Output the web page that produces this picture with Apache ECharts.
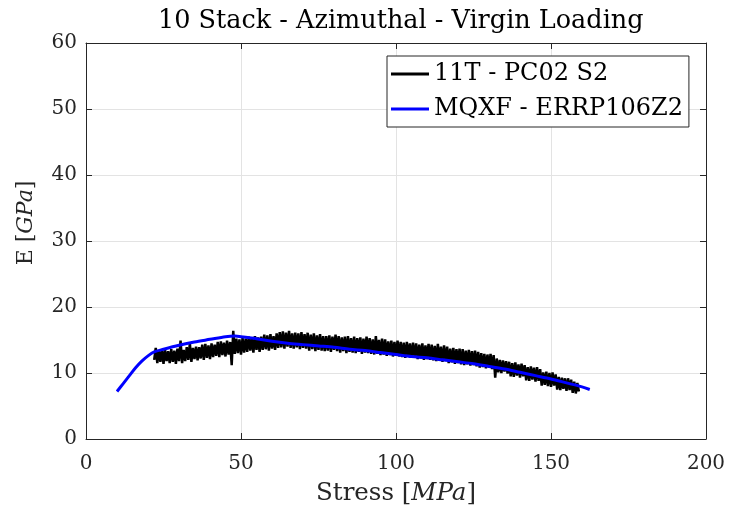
<!DOCTYPE html>
<html>
<head>
<meta charset="utf-8">
<script src="https://cdn.jsdelivr.net/npm/echarts@6/dist/echarts.min.js"></script>
<style>html,body{margin:0;padding:0;background:#fff;}#chart{width:729px;height:514px;}</style>
</head>
<body>
<div id="chart"></div>
<script>
// ---- data ----
const seriesNames = ['11T - PC02 S2', 'MQXF - ERRP106Z2'];
const xTicks = [0, 50, 100, 150, 200];
const yTicks = [0, 10, 20, 30, 40, 50, 60];

const stress11T = [
  22,22.5,23,23.5,24,24.5,25,25.5,26,26.5,
  27,27.5,28,28.5,29,29.5,30,30.5,31,31.5,
  32,32.5,33,33.5,34,34.5,35,35.5,36,36.5,
  37,37.5,38,38.5,39,39.5,40,40.5,41,41.5,
  42,42.5,43,43.5,44,44.5,45,45.5,46,46.5,
  47,47.5,48,48.5,49,49.5,50,50.5,51,51.5,
  52,52.5,53,53.5,54,54.5,55,55.5,56,56.5,
  57,57.5,58,58.5,59,59.5,60,60.5,61,61.5,
  62,62.5,63,63.5,64,64.5,65,65.5,66,66.5,
  67,67.5,68,68.5,69,69.5,70,70.5,71,71.5,
  72,72.5,73,73.5,74,74.5,75,75.5,76,76.5,
  77,77.5,78,78.5,79,79.5,80,80.5,81,81.5,
  82,82.5,83,83.5,84,84.5,85,85.5,86,86.5,
  87,87.5,88,88.5,89,89.5,90,90.5,91,91.5,
  92,92.5,93,93.5,94,94.5,95,95.5,96,96.5,
  97,97.5,98,98.5,99,99.5,100,100.5,101,101.5,
  102,102.5,103,103.5,104,104.5,105,105.5,106,106.5,
  107,107.5,108,108.5,109,109.5,110,110.5,111,111.5,
  112,112.5,113,113.5,114,114.5,115,115.5,116,116.5,
  117,117.5,118,118.5,119,119.5,120,120.5,121,121.5,
  122,122.5,123,123.5,124,124.5,125,125.5,126,126.5,
  127,127.5,128,128.5,129,129.5,130,130.5,131,131.5,
  132,132.5,133,133.5,134,134.5,135,135.5,136,136.5,
  137,137.5,138,138.5,139,139.5,140,140.5,141,141.5,
  142,142.5,143,143.5,144,144.5,145,145.5,146,146.5,
  147,147.5,148,148.5,149,149.5,150,150.5,151,151.5,
  152,152.5,153,153.5,154,154.5,155,155.5,156,156.5,
  157,157.5,158,158.5,159
];
const modulus11T = [
  12.0,13.8,11.5,13.4,11.7,13.6,11.4,13.5,11.8,13.3,
  11.5,13.6,11.7,13.4,11.4,13.7,11.8,14.9,11.5,13.5,
  11.8,13.9,12.0,14.5,11.7,13.8,12.1,14.0,11.9,13.9,
  12.2,14.3,12.0,14.4,12.3,14.2,12.1,14.5,12.4,14.3,
  12.6,14.7,12.4,14.8,12.7,14.6,12.5,14.9,12.8,14.7,
  11.2,16.4,12.9,15.2,13.0,15.1,12.8,15.3,13.1,15.2,
  13.2,15.5,13.4,15.3,13.1,15.6,13.5,15.4,13.2,15.5,
  13.5,15.8,13.6,15.7,13.4,15.9,13.7,15.6,13.5,16.0,
  13.8,16.2,13.9,16.3,13.7,16.1,14.0,16.4,13.8,16.0,
  13.7,16.1,13.9,16.0,13.6,16.2,13.8,15.9,13.7,16.1,
  13.4,15.8,13.6,16.0,13.3,15.7,13.5,15.9,13.4,15.6,
  13.3,15.6,13.4,15.7,13.2,15.5,13.5,15.8,13.3,15.6,
  13.1,15.4,13.3,15.5,13.0,15.6,13.2,15.3,13.1,15.5,
  13.0,15.3,13.2,15.4,12.9,15.2,13.1,15.5,13.0,15.3,
  12.9,15.1,12.8,15.6,12.9,15.0,12.7,15.2,12.8,15.1,
  12.6,14.8,12.7,14.9,12.5,14.7,12.6,14.9,12.5,14.7,
  12.4,14.6,12.3,14.7,12.5,14.5,12.3,14.6,12.4,14.5,
  12.1,14.3,12.2,14.5,12.0,14.2,12.1,14.4,12.0,14.3,
  11.9,14.1,11.8,14.4,11.9,14.0,11.7,14.2,11.8,14.0,
  11.5,13.7,11.6,13.8,11.4,13.6,11.5,13.7,11.3,13.6,
  11.2,13.4,11.3,13.5,11.1,13.3,11.2,13.4,11.0,13.2,
  10.8,13.0,10.9,12.9,10.7,12.8,10.8,12.9,10.6,12.7,
  9.3,12.2,10.1,12.0,10.0,11.9,10.2,11.8,9.9,11.7,
  9.5,11.5,9.4,11.6,9.6,11.3,9.3,11.4,9.5,11.2,
  8.9,10.9,8.8,11.0,9.0,10.8,8.7,10.9,8.8,10.6,
  8.1,10.1,8.2,10.2,8.0,10.0,7.9,10.1,8.1,9.8,
  7.5,9.4,7.4,9.3,7.6,9.2,7.3,9.2,7.4,9.0,
  7.0,8.7,6.9,8.5,7.2
];

const stressMQXF = [10,12,14,16,18,20,22,25,30,35,40,45,48,50,55,60,65,70,75,80,85,90,95,100,105,110,115,120,125,130,135,140,145,150,155,160,162.5];
const modulusMQXF = [7.2,8.4,9.6,10.8,11.8,12.6,13.2,13.6,14.2,14.7,15.1,15.5,15.6,15.5,15.2,14.8,14.5,14.3,14.1,13.9,13.6,13.4,13.1,12.8,12.5,12.3,12.0,11.7,11.4,11.0,10.6,10.1,9.6,9.1,8.5,7.9,7.5];

// ---- chart ----
const FONT = '"DejaVu Serif", "Liberation Serif", serif';
const AX = '#262626';
const chart = echarts.init(document.getElementById('chart'), null, {renderer: 'canvas'});

const pair = (xs, ys) => xs.map((x, i) => [x, ys[i]]);

const baseX = {
  type: 'value', min: xTicks[0], max: xTicks[xTicks.length - 1], interval: 50,
  axisLine: {show: true, onZero: false, lineStyle: {color: AX, width: 1}},
  axisTick: {show: true, inside: true, length: 6, lineStyle: {color: AX}},
};
const baseY = {
  type: 'value', min: yTicks[0], max: yTicks[yTicks.length - 1], interval: 10,
  axisLine: {show: true, onZero: false, lineStyle: {color: AX, width: 1}},
  axisTick: {show: true, inside: true, length: 6, lineStyle: {color: AX}},
};

chart.setOption({
  animation: false,
  backgroundColor: '#fff',
  title: {
    text: '10 Stack - Azimuthal - Virgin Loading',
    left: 153, top: 3,
    textStyle: {fontFamily: FONT, fontSize: 25.5, fontWeight: 'normal', color: '#000'}
  },
  grid: {left: 86, right: 23, top: 43, bottom: 75, containLabel: false},
  legend: {
    data: seriesNames,
    orient: 'vertical',
    left: 387, top: 56,
    padding: [6, 6, 6, 4],
    itemGap: 11,
    itemWidth: 38, itemHeight: 3,
    icon: 'rect',
    backgroundColor: '#fff',
    borderColor: AX, borderWidth: 1, borderRadius: 0,
    textStyle: {fontFamily: FONT, fontSize: 24, color: '#000', lineHeight: 22}
  },
  xAxis: [
    Object.assign({}, baseX, {
      position: 'bottom',
      splitLine: {show: true, lineStyle: {color: '#e3e3e3', width: 1}},
      axisLabel: {fontFamily: FONT, fontSize: 20, color: AX, margin: 15},
      name: '{n|Stress }{i|[}{it|MPa}{i|]}',
      nameLocation: 'middle', nameGap: 42,
      nameTextStyle: {
        rich: {
          n: {fontFamily: FONT, fontSize: 24.5, color: AX},
          i: {fontFamily: FONT, fontSize: 24.5, color: AX},
          it: {fontFamily: FONT, fontSize: 24.5, color: AX, fontStyle: 'italic'}
        }
      }
    }),
    Object.assign({}, baseX, {
      position: 'top', axisLabel: {show: false}, splitLine: {show: false}
    })
  ],
  yAxis: [
    Object.assign({}, baseY, {
      position: 'left',
      splitLine: {show: true, lineStyle: {color: '#e3e3e3', width: 1}},
      axisLabel: {fontFamily: FONT, fontSize: 20, color: AX, margin: 9},
      name: '{n|E }{i|[}{it|GPa}{i|]}',
      nameLocation: 'middle', nameGap: 49,
      nameTextStyle: {
        padding: [0, 0, 0, 36],
        rich: {
          n: {fontFamily: FONT, fontSize: 22, color: AX},
          i: {fontFamily: FONT, fontSize: 22, color: AX},
          it: {fontFamily: FONT, fontSize: 22, color: AX, fontStyle: 'italic'}
        }
      }
    }),
    Object.assign({}, baseY, {
      position: 'right', axisLabel: {show: false}, splitLine: {show: false}
    })
  ],
  series: [
    {
      name: seriesNames[0], type: 'line', xAxisIndex: 0, yAxisIndex: 0,
      data: pair(stress11T, modulus11T),
      showSymbol: false, symbol: 'none',
      lineStyle: {color: '#000', width: 2.5},
      itemStyle: {color: '#000'}
    },
    {
      name: seriesNames[1], type: 'line', xAxisIndex: 0, yAxisIndex: 0,
      data: pair(stressMQXF, modulusMQXF),
      showSymbol: false, symbol: 'none', smooth: 0.3,
      lineStyle: {color: '#0000ff', width: 3},
      itemStyle: {color: '#0000ff'}
    }
  ]
});
</script>
</body>
</html>
